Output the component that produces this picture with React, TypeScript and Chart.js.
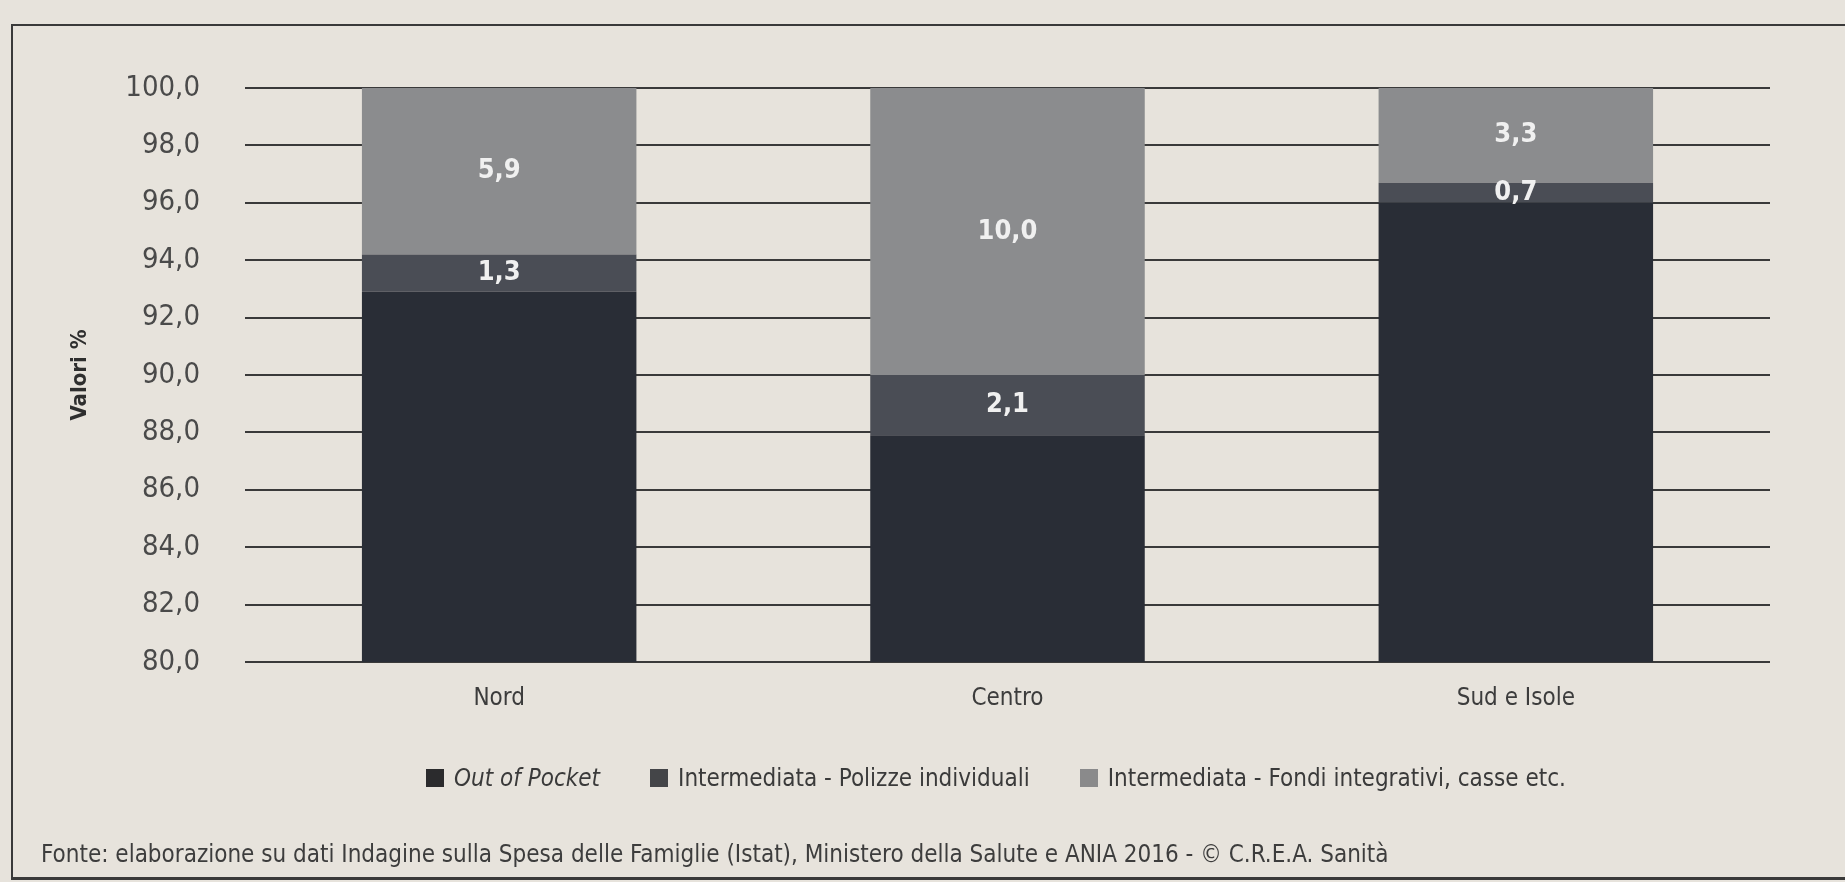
import React, { useEffect, useRef } from "react";
import { Chart, registerables } from "chart.js";

Chart.register(...registerables);

const categories = ["Nord", "Centro", "Sud e Isole"];
const seriesNames = [
  "Out of Pocket",
  "Intermediata - Polizze individuali",
  "Intermediata - Fondi integrativi, casse etc.",
];
const outOfPocket = [92.9, 87.9, 96.0];
const polizzeIndividuali = [1.3, 2.1, 0.7];
const fondiIntegrativi = [5.9, 10.0, 3.3];
const barColors = ["#292d36", "#4a4d55", "#8b8c8e"];
const legendColors = ["#2b2b2d", "#444548", "#8a8a8b"];
const yMin = 80;
const yMax = 100;
const yStep = 2;
const yTitle = "Valori %";
const footnote =
  "Fonte: elaborazione su dati Indagine sulla Spesa delle Famiglie (Istat), Ministero della Salute e ANIA 2016 - © C.R.E.A. Sanità";

const NARROW = '"DejaVu Sans Condensed", "Liberation Sans Narrow", "Liberation Sans", sans-serif';

const fmt = (v: number) => v.toFixed(1).replace(".", ",");

const valueLabels = {
  id: "valueLabels",
  afterDatasetsDraw(chart: any) {
    const ctx = chart.ctx;
    ctx.save();
    ctx.fillStyle = "#f0f0f0";
    ctx.font = `bold 27px ${NARROW}`;
    ctx.textAlign = "center";
    ctx.textBaseline = "middle";
    chart.data.datasets.forEach((ds: any, i: number) => {
      const meta = chart.getDatasetMeta(i);
      meta.data.forEach((el: any, j: number) => {
        const top = Math.max(el.y, chart.chartArea.top);
        const y = (top + el.base) / 2;
        ctx.fillText(fmt(ds.data[j]), el.x, y);
      });
    });
    ctx.restore();
  },
};

export default function App() {
  const ref = useRef<HTMLCanvasElement | null>(null);

  useEffect(() => {
    if (!ref.current) return;
    const data = [outOfPocket, polizzeIndividuali, fondiIntegrativi];
    const chart = new Chart(ref.current, {
      type: "bar",
      data: {
        labels: categories,
        datasets: seriesNames.map((name, i) => ({
          label: name,
          data: data[i],
          backgroundColor: barColors[i],
          borderWidth: 0,
          barPercentage: 0.54,
          categoryPercentage: 1,
        })),
      },
      options: {
        animation: false,
        responsive: false,
        maintainAspectRatio: false,
        layout: { padding: { left: 0, right: 75, top: 88, bottom: 160 } },
        plugins: {
          legend: { display: false },
          tooltip: { enabled: false },
          title: { display: false },
        },
        scales: {
          x: {
            stacked: true,
            grid: { display: false },
            border: { display: false },
            ticks: {
              color: "#3c3c3c",
              font: { family: NARROW, size: 24 },
              padding: 14,
            },
            afterFit: (s: any) => {
              s.height = 60;
            },
          },
          y: {
            stacked: true,
            min: yMin,
            max: yMax,
            grid: { color: "#3a3a3a", lineWidth: 2, drawTicks: false },
            border: { display: false },
            ticks: {
              stepSize: yStep,
              color: "#4a4a4a",
              font: { family: NARROW, size: 29 },
              padding: 45,
              callback: (v: any) => fmt(Number(v)),
            },
            title: {
              display: true,
              text: yTitle,
              color: "#2e2e2e",
              font: { family: NARROW, size: 22, weight: "bold" },
              padding: { top: 67, bottom: 0 },
            },
            afterFit: (s: any) => {
              s.width = 245;
            },
          },
        },
      },
      plugins: [valueLabels],
    });
    return () => chart.destroy();
  }, []);

  return (
    <div
      style={{
        position: "fixed",
        left: 0,
        top: 0,
        width: 1845,
        height: 882,
        background: "#e7e3dc",
        overflow: "hidden",
      }}
    >
      <canvas
        ref={ref}
        width={1845}
        height={882}
        style={{ position: "absolute", left: 0, top: 0, width: 1845, height: 882 }}
      />
      <div style={{ position: "absolute", left: 11, top: 24, width: 1834, height: 2, background: "#3a3a3a" }} />
      <div style={{ position: "absolute", left: 11, top: 24, width: 2, height: 856, background: "#3a3a3a" }} />
      <div style={{ position: "absolute", left: 11, top: 877, width: 1834, height: 3, background: "#3a3a3a" }} />
      <div
        style={{
          position: "absolute",
          left: 426,
          top: 762,
          height: 32,
          display: "flex",
          alignItems: "center",
          fontFamily: NARROW,
          fontSize: 24,
          color: "#3a3a3a",
          whiteSpace: "nowrap",
        }}
      >
        {seriesNames.map((name, i) => (
          <div key={name} style={{ display: "flex", alignItems: "center", marginRight: 50 }}>
            <span
              style={{
                display: "inline-block",
                width: 18,
                height: 18,
                background: legendColors[i],
                marginRight: 10,
              }}
            />
            <span style={{ fontStyle: i === 0 ? "italic" : "normal" }}>{name}</span>
          </div>
        ))}
      </div>
      <div
        style={{
          position: "absolute",
          left: 41,
          top: 838,
          lineHeight: "32px",
          fontFamily: NARROW,
          fontSize: 24,
          color: "#3d3d3d",
          whiteSpace: "nowrap",
        }}
      >
        {footnote}
      </div>
    </div>
  );
}
